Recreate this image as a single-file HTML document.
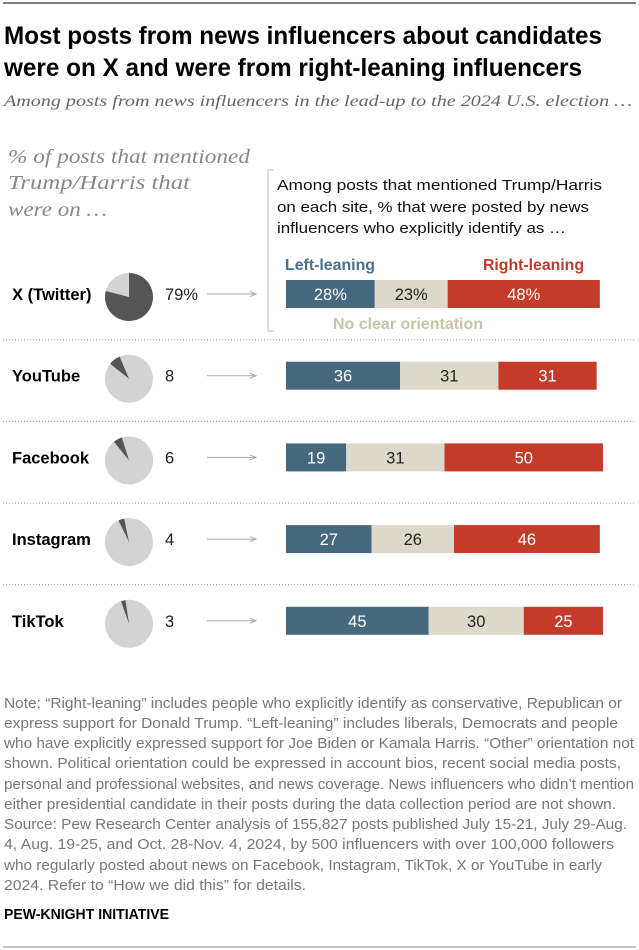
<!DOCTYPE html>
<html><head><meta charset="utf-8"><style>
html,body{margin:0;padding:0;background:#fff}
svg{display:block}
.t{font-family:"Liberation Sans Narrow","Liberation Sans",sans-serif}
.s{font-family:"Liberation Serif",serif;font-style:italic}
</style></head><body>
<svg id="chart" width="639" height="950" viewBox="0 0 639 950" xmlns="http://www.w3.org/2000/svg">
<line x1="3" y1="3" x2="636" y2="3" stroke="#555" stroke-width="1.5"/>
<text class="t" x="4" y="44" font-size="25" font-weight="bold" fill="#000" textLength="598" lengthAdjust="spacingAndGlyphs">Most posts from news influencers about candidates</text>
<text class="t" x="4" y="76" font-size="25" font-weight="bold" fill="#000" textLength="578" lengthAdjust="spacingAndGlyphs">were on X and were from right-leaning influencers</text>
<text class="s" x="4" y="106" font-size="16" fill="#666" textLength="628" lengthAdjust="spacingAndGlyphs">Among posts from news influencers in the lead-up to the 2024 U.S. election …</text>
<g fill="#888">
<text class="s" x="8" y="163" font-size="20" textLength="242" lengthAdjust="spacingAndGlyphs">% of posts that mentioned</text>
<text class="s" x="8" y="189" font-size="20" textLength="182" lengthAdjust="spacingAndGlyphs">Trump/Harris that</text>
<text class="s" x="8" y="216" font-size="20" textLength="99" lengthAdjust="spacingAndGlyphs">were on …</text>
</g>
<path d="M274 170 H268 V331 H274" fill="none" stroke="#bbb" stroke-width="1"/>
<g fill="#111">
<text class="t" x="277" y="190" font-size="15" textLength="325" lengthAdjust="spacingAndGlyphs">Among posts that mentioned Trump/Harris</text>
<text class="t" x="277" y="212" font-size="15" textLength="312" lengthAdjust="spacingAndGlyphs">on each site, % that were posted by news</text>
<text class="t" x="277" y="233" font-size="15" textLength="289" lengthAdjust="spacingAndGlyphs">influencers who explicitly identify as …</text>
</g>
<text class="t" x="285" y="270" font-size="16" font-weight="bold" fill="#4a6f8f" textLength="90" lengthAdjust="spacingAndGlyphs">Left-leaning</text>
<text class="t" x="584" y="270" font-size="16" font-weight="bold" fill="#c13b2a" text-anchor="end" textLength="101" lengthAdjust="spacingAndGlyphs">Right-leaning</text>
<text class="t" x="333" y="329" font-size="16" font-weight="bold" fill="#cbc3a3" textLength="150" lengthAdjust="spacingAndGlyphs">No clear orientation</text>
<g id="rows"></g>
<g fill="#777" font-size="14.5">
<text class="t" x="4" y="708" textLength="618" lengthAdjust="spacingAndGlyphs">Note: “Right-leaning” includes people who explicitly identify as conservative, Republican or</text>
<text class="t" x="4" y="728" textLength="614" lengthAdjust="spacingAndGlyphs">express support for Donald Trump. “Left-leaning” includes liberals, Democrats and people</text>
<text class="t" x="4" y="748" textLength="630" lengthAdjust="spacingAndGlyphs">who have explicitly expressed support for Joe Biden or Kamala Harris. “Other” orientation not</text>
<text class="t" x="4" y="768" textLength="617" lengthAdjust="spacingAndGlyphs">shown. Political orientation could be expressed in account bios, recent social media posts,</text>
<text class="t" x="4" y="789" textLength="630" lengthAdjust="spacingAndGlyphs">personal and professional websites, and news coverage. News influencers who didn’t mention</text>
<text class="t" x="4" y="809" textLength="612" lengthAdjust="spacingAndGlyphs">either presidential candidate in their posts during the data collection period are not shown.</text>
<text class="t" x="4" y="829" textLength="623" lengthAdjust="spacingAndGlyphs">Source: Pew Research Center analysis of 155,827 posts published July 15-21, July 29-Aug.</text>
<text class="t" x="4" y="849" textLength="610" lengthAdjust="spacingAndGlyphs">4, Aug. 19-25, and Oct. 28-Nov. 4, 2024, by 500 influencers with over 100,000 followers</text>
<text class="t" x="4" y="870" textLength="598" lengthAdjust="spacingAndGlyphs">who regularly posted about news on Facebook, Instagram, TikTok, X or YouTube in early</text>
<text class="t" x="4" y="890" textLength="302" lengthAdjust="spacingAndGlyphs">2024. Refer to “How we did this” for details.</text>
</g>
<text class="t" x="4" y="919" font-size="14.5" font-weight="bold" fill="#000" textLength="165" lengthAdjust="spacingAndGlyphs">PEW-KNIGHT INITIATIVE</text>
<line x1="3" y1="947" x2="636" y2="947" stroke="#888" stroke-width="1"/>
</svg>
<script>
const sites = ["X (Twitter)", "YouTube", "Facebook", "Instagram", "TikTok"];
const sharePct = [79, 8, 6, 4, 3];
const leftVals = [28, 36, 19, 27, 45];
const noneVals = [23, 31, 31, 26, 30];
const rightVals = [48, 31, 50, 46, 25];

const NS = "http://www.w3.org/2000/svg";
const g = document.getElementById("rows");
const x0 = 286, pxPer = 3.17, rowTop = 280, rowStep = 81.7, barH = 28;
const xScale = v => v * pxPer;
const yRow = i => rowTop + i * rowStep;
function mk(tag, attrs, parent) {
  const e = document.createElementNS(NS, tag);
  for (const k in attrs) e.setAttribute(k, attrs[k]);
  (parent || g).appendChild(e);
  return e;
}
function pt(cx, cy, r, deg) {
  const a = (deg - 90) * Math.PI / 180;
  return [cx + r * Math.cos(a), cy + r * Math.sin(a)];
}
sites.forEach((s, i) => {
  const y = yRow(i), cy = y + barH / 2;
  if (i > 0) {
    const sep = mk("line", {x1: 3, x2: 636, y1: y - 22, y2: y - 22, stroke: "#999", "stroke-width": 1, "stroke-dasharray": "1 2"});
    
    
  }
  const lab = mk("text", {x: 12, y: cy + 6, "font-size": 16.5, "font-weight": "bold", fill: "#000", class: "t"});
  lab.textContent = s;
  
  
  // pie
  const pcx = 129, pcy = cy + 3, r = 24;
  const bg = mk("circle", {cx: pcx, cy: pcy, r: r, fill: "#d3d3d3"});
  
  
  const sweep = sharePct[i] / 100 * 360;
  const a0 = sharePct[i] >= 50 ? 0 : -sweep * 1.8;
  const a1 = a0 + sweep;
  const p0 = pt(pcx, pcy, r, a0), p1 = pt(pcx, pcy, r, a1);
  const slice = mk("path", {d: `M${pcx},${pcy} L${p0[0]},${p0[1]} A${r},${r} 0 ${sweep > 180 ? 1 : 0} 1 ${p1[0]},${p1[1]} Z`, fill: "#555"});
  
  
  const pl = mk("text", {x: 165, y: cy + 6, "font-size": 16.5, fill: "#222", class: "t"});
  pl.textContent = sharePct[i] + (i === 0 ? "%" : "");
  
  
  const ar = mk("path", {d: `M207,${cy} H255 M250,${cy - 2.5} L256,${cy} L250,${cy + 2.5}`, stroke: "#aaa", "stroke-width": 1, fill: "none"});
  
  
  // bars
  const segs = [[leftVals[i], "#46687f", "#fff", "bar-left-leaning"], [noneVals[i], "#dcd9cb", "#222", "bar-no-clear"], [rightVals[i], "#c43b2a", "#fff", "bar-right-leaning"]];
  let x = x0;
  segs.forEach(([v, col, tc, nm]) => {
    const w = xScale(v);
    const rect = mk("rect", {x: x, y: y, width: w, height: barH, fill: col});
    
    
    const t = mk("text", {x: x + w / 2, y: cy + 6, "text-anchor": "middle", "font-size": 16.5, fill: tc, class: "t"});
    t.textContent = v + (i === 0 ? "%" : "");
    
    
    x += w;
  });
});
</script>
</body></html>
